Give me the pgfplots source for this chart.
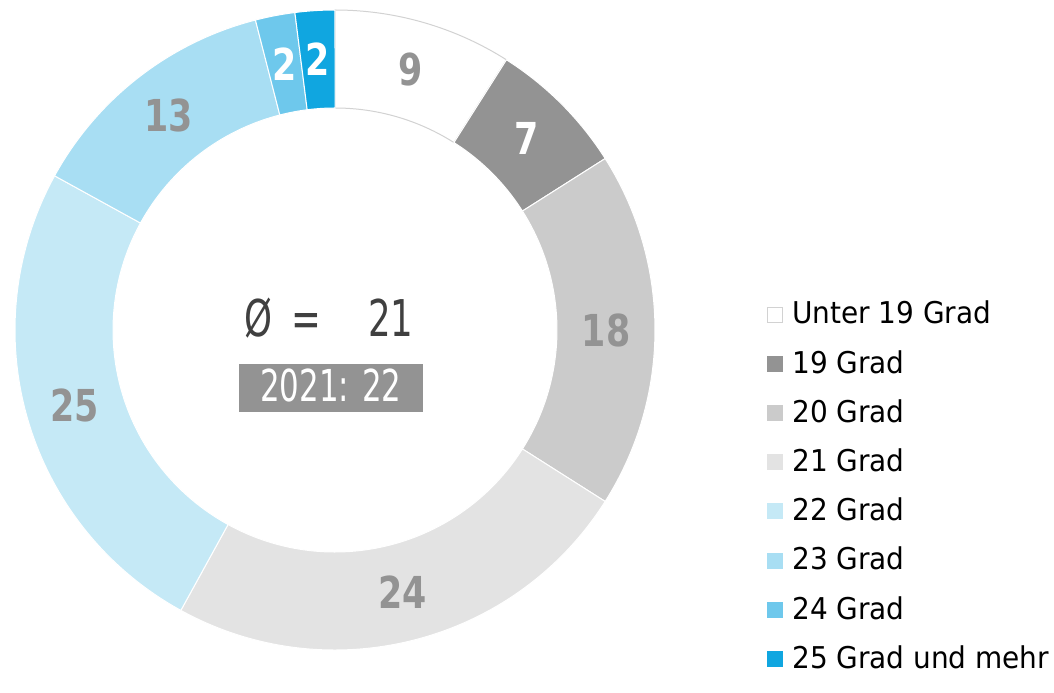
\documentclass[border=0pt]{standalone}
\usepackage{pgfplots}
\pgfplotsset{compat=1.18}
\usepackage{fontspec}
\setmainfont[FakeStretch=1.035]{DejaVu Sans Condensed}
\newfontfamily\labfont[FakeStretch=0.88]{DejaVu Sans Condensed}
\newfontfamily\cfont[FakeStretch=0.78]{DejaVu Sans Condensed}

\definecolor{c0}{HTML}{FFFFFF}
\definecolor{c1}{HTML}{939393}
\definecolor{c2}{HTML}{CBCBCB}
\definecolor{c3}{HTML}{E3E3E3}
\definecolor{c4}{HTML}{C5E9F6}
\definecolor{c5}{HTML}{A8DEF3}
\definecolor{c6}{HTML}{6EC8EC}
\definecolor{c7}{HTML}{10A6E0}
\definecolor{labgray}{HTML}{939393}
\definecolor{ctext}{HTML}{404040}
\definecolor{edgegray}{HTML}{D2D2D2}

% #1 cumulative start (percent), #2 value (percent), #3 colour, #4 edge colour
\newcommand\donutwedge[4]{%
  \fill[#3,draw=#4,line width=0.75pt]
    (axis cs:{335+320*cos(90-3.6*#1)},{340+320*sin(90-3.6*#1)})
    arc[start angle={90-3.6*#1}, end angle={90-3.6*(#1+#2)}, radius=240pt]
    -- (axis cs:{335+222*cos(90-3.6*(#1+#2))},{340+222*sin(90-3.6*(#1+#2))})
    arc[start angle={90-3.6*(#1+#2)}, end angle={90-3.6*#1}, radius=166.5pt]
    -- cycle;}
% #1 cumulative start, #2 value, #3 text colour
\newcommand\donutlabel[3]{%
  \node[text=#3,font=\labfont\bfseries\fontsize{33}{33}\selectfont,inner sep=0pt]
    at (axis cs:{335+271*cos(90-3.6*(#1+#2/2))},{340+271*sin(90-3.6*(#1+#2/2))}) {#2};}
% #1 baseline (image y), #2 colour, #3 edge, #4 text
\newcommand\legitem[4]{%
  \fill[#2,draw=#3,line width=0.5pt] (axis cs:767,{670-#1+2}) rectangle (axis cs:782,{670-#1+17});
  \node[anchor=base west,inner sep=0pt,font=\fontsize{22.5}{22.5}\selectfont,text=black]
    at (axis cs:792,{670-#1}) {#4};}

\begin{document}
\begin{tikzpicture}
\begin{axis}[
  x=0.75pt, y=0.75pt,
  xmin=0, xmax=1054, ymin=0, ymax=670,
  hide axis, clip=false,
]
\path (axis cs:0,0) rectangle (axis cs:1054,670);
% values: 9, 7, 18, 24, 25, 13, 2, 2
\donutwedge{0}{9}{c0}{edgegray}
\donutwedge{9}{7}{c1}{white}
\donutwedge{16}{18}{c2}{white}
\donutwedge{34}{24}{c3}{white}
\donutwedge{58}{25}{c4}{white}
\donutwedge{83}{13}{c5}{white}
\donutwedge{96}{2}{c6}{white}
\donutwedge{98}{2}{c7}{white}

\donutlabel{0}{9}{labgray}
\donutlabel{9}{7}{white}
\donutlabel{16}{18}{labgray}
\donutlabel{34}{24}{labgray}
\donutlabel{58}{25}{labgray}
\donutlabel{83}{13}{labgray}
\donutlabel{96}{2}{white}
\donutlabel{98}{2}{white}

% centre text
\node[anchor=base,inner sep=0pt,text=ctext,font=\cfont\fontsize{38}{38}\selectfont] at (axis cs:258,333) {Ø};
\node[anchor=base,inner sep=0pt,text=ctext,font=\cfont\fontsize{38}{38}\selectfont] at (axis cs:306,333) {=};
\node[anchor=base,inner sep=0pt,text=ctext,font=\cfont\fontsize{38}{38}\selectfont] at (axis cs:391,333) {21};
\fill[c1] (axis cs:239,258) rectangle (axis cs:423,306);
\node[anchor=base,inner sep=0pt,text=white,font=\cfont\fontsize{33}{33}\selectfont] at (axis cs:331,268.5) {2021: 22};

% legend
\legitem{324}{c0}{edgegray}{Unter 19 Grad}
\legitem{373.2}{c1}{c1}{19 Grad}
\legitem{422.4}{c2}{c2}{20 Grad}
\legitem{471.6}{c3}{c3}{21 Grad}
\legitem{520.8}{c4}{c4}{22 Grad}
\legitem{570}{c5}{c5}{23 Grad}
\legitem{619.2}{c6}{c6}{24 Grad}
\legitem{668.4}{c7}{c7}{25 Grad und mehr}
\end{axis}
\end{tikzpicture}
\end{document}
